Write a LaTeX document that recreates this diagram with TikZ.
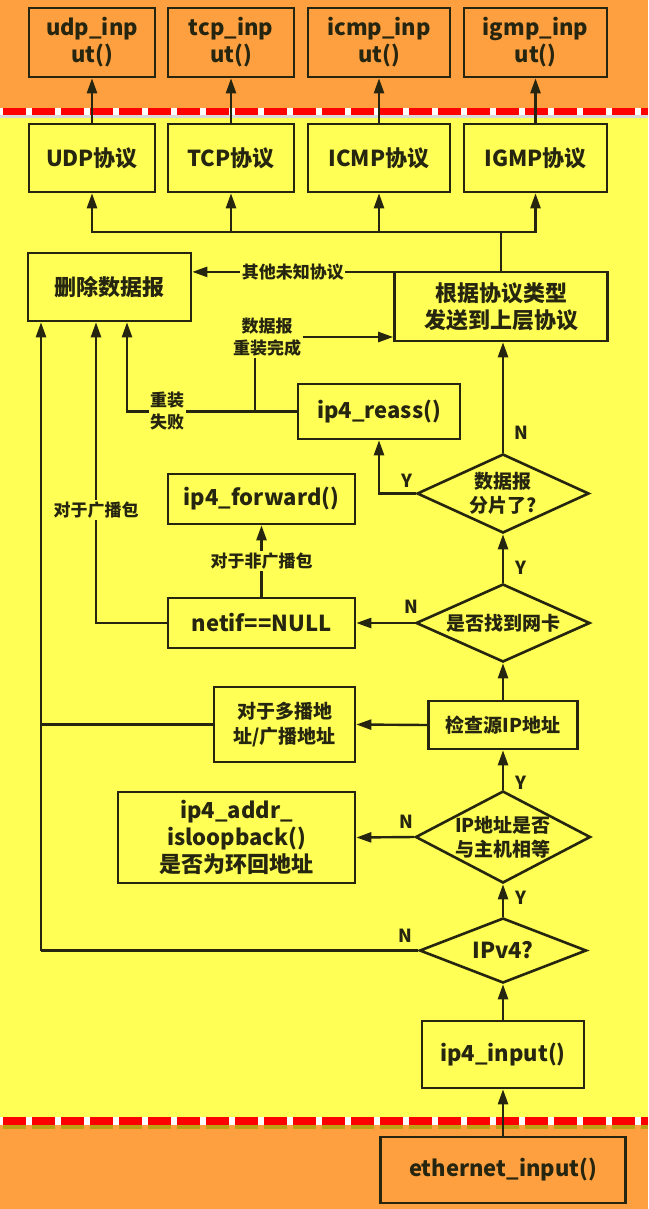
\documentclass[tikz,border=0pt]{standalone}
\usepackage{fontspec}
\setmainfont{Noto Sans CJK SC}
\usetikzlibrary{shapes.geometric,arrows.meta,calc}
\definecolor{bgor}{RGB}{255,160,64}
\definecolor{bgye}{RGB}{255,255,85}
\definecolor{ink}{RGB}{38,38,16}
\definecolor{dred}{RGB}{255,0,0}
\definecolor{shad}{RGB}{190,160,20}
\begin{document}
\begin{tikzpicture}[x=1pt,y=-1pt,
  box/.style={draw=ink,line width=2.6pt,fill=bgye,text=ink,font=\fontsize{22}{27}\selectfont\bfseries,align=center,inner sep=0pt},
  obox/.style={box,fill=bgor},
  dia/.style={diamond,draw=ink,line width=2.6pt,fill=bgye,inner sep=0pt},
  dtext/.style={text=ink,font=\fontsize{19}{24}\selectfont\bfseries,align=center,inner sep=0pt},
  mtext/.style={font=\fontsize{19}{25}\selectfont\bfseries},
  conn/.style={draw=ink,line width=2.4pt},
  arr/.style={conn,-{Triangle[length=15pt,width=10pt]}},
  lab/.style={text=ink,font=\fontsize{17}{22}\selectfont\bfseries,fill=bgye,inner sep=1.5pt,align=center},
  yn/.style={text=ink,font=\fontsize{18}{20}\selectfont\bfseries,inner sep=0pt},
]
\useasboundingbox (0,0) rectangle (648,1209);
% backgrounds
\fill[bgor] (0,0) rectangle (648,112);
\fill[bgye] (0,112) rectangle (648,1121);
\fill[bgor] (0,1121) rectangle (648,1209);
% separator lines
\draw[black!15,line width=3pt] (0,116.5) -- (648,116.5);
\draw[white,line width=7pt] (0,111.5) -- (648,111.5);
\draw[dred,line width=7pt,dash pattern=on 23pt off 6pt,dash phase=-3pt] (0,111.5) -- (648,111.5);
\draw[shad,line width=4pt,dash pattern=on 23pt off 6pt,dash phase=-3pt] (0,1127) -- (648,1127);
\draw[white,line width=8pt] (0,1121) -- (648,1121);
\draw[dred,line width=8pt,dash pattern=on 23pt off 6pt,dash phase=-3pt] (0,1121) -- (648,1121);

% top boxes
\node[obox,minimum width=126pt,minimum height=69pt] (udpi) at (92,42.5) {udp\_inp\\ut()};
\node[obox,minimum width=126pt,minimum height=69pt] (tcpi) at (231,42.5) {tcp\_inp\\ut()};
\node[obox,minimum width=142pt,minimum height=69pt] (icmpi) at (379,42.5) {icmp\_inp\\ut()};
\node[obox,minimum width=143pt,minimum height=69pt] (igmpi) at (535.5,42.5) {igmp\_inp\\ut()};
% protocol boxes
\node[box,minimum width=126pt,minimum height=68pt] (udp) at (92,158) {UDP协议};
\node[box,minimum width=126pt,minimum height=68pt] (tcp) at (231,158) {TCP协议};
\node[box,minimum width=142pt,minimum height=68pt] (icmp) at (379,158) {ICMP协议};
\node[box,minimum width=143pt,minimum height=68pt] (igmp) at (535.5,158) {IGMP协议};
% main boxes
\node[box,minimum width=163pt,minimum height=68pt] (drop) at (109.5,287) {删除数据报};
\node[box,minimum width=213pt,minimum height=69pt] (dispatch) at (501,306.5) {根据协议类型\\发送到上层协议};
\node[box,minimum width=162pt,minimum height=55pt] (reass) at (379,411.5) {ip4\_reass()};
\node[dia,minimum width=172pt,minimum height=79pt] (frag) at (503,493.5) {};
\node[dtext] at (frag) {数据报\\分片了?};
\node[box,minimum width=187pt,minimum height=50pt] (forward) at (261.5,499) {ip4\_forward()};
\node[box,minimum width=187pt,minimum height=50pt] (netif) at (261.5,623) {netif==NULL};
\node[dia,minimum width=174pt,minimum height=78pt] (nic) at (503,623) {};
\node[dtext] at (nic) {是否找到网卡};
\node[box,mtext,minimum width=149pt,minimum height=48pt] (check) at (503,725) {检查源IP地址};
\node[box,mtext,minimum width=141pt,minimum height=75pt] (mcast) at (284.5,724.5) {对于多播地\\址/广播地址};
\node[dia,minimum width=175pt,minimum height=92pt] (eq) at (503,837) {};
\node[dtext] at (eq) {IP地址是否\\与主机相等};
\node[box,minimum width=237pt,minimum height=91pt] (loop) at (236.5,837.5) {ip4\_addr\_\\isloopback()\\是否为环回地址};
\node[dia,minimum width=167pt,minimum height=65pt] (ipv4) at (503,950.5) {};
\node[dtext,font=\fontsize{22}{26}\selectfont\bfseries] at (ipv4) {IPv4?};
\node[box,minimum width=162pt,minimum height=67pt] (ip4in) at (503,1054.5) {ip4\_input()};
\node[obox,minimum width=245pt,minimum height=66pt] (eth) at (503,1170) {ethernet\_input()};

\coordinate (bus) at (501,232);
\coordinate (L) at (41,950.5);
\coordinate (j1) at (255,411.5);

% connectors
\draw[arr] (udp.north) -- (udpi.south);
\draw[arr] (tcp.north) -- (tcpi.south);
\draw[arr] (icmp.north) -- (icmpi.south);
\draw[arr] (igmp.north) -- (igmpi.south);
\draw[conn] (dispatch.north) -- (bus);
\draw[arr] (bus) -| (udp.south);
\draw[arr] (bus) -| (tcp.south);
\draw[arr] (bus) -| (icmp.south);
\draw[arr] (bus) -| (igmp.south);
\draw[arr] ([yshift=-1.2pt]dispatch.north west) -- ([yshift=-1.2pt]dispatch.north west -| drop.east)
  node[lab,midway] {其他未知协议};
\node[lab] (rok) at (267,337) {数据报\\重装完成};
\draw[conn] (j1) -- (j1 |- rok.south);
\draw[arr] (rok.east) -- (rok.east -| dispatch.west);
\draw[arr] (reass.west) -| ([xshift=17.5pt]drop.south);
\node[lab] (rfail) at (167,411.5) {重装\\失败};
\draw[arr] (frag.north) -- (frag.north |- dispatch.south);
\node[yn] at (521,433) {N};
\draw[arr] (frag.west) -| (reass.south);
\node[yn] at (407,481) {Y};
\draw[arr] (netif.north) -- (forward.south) node[lab,midway] {对于非广播包};
\draw[arr] (netif.west) -| ([xshift=-13.5pt]drop.south);
\node[lab] (bcast) at (96,510) {对于广播包};
\draw[arr] (nic.north) -- (frag.south);
\node[yn] at (521,568) {Y};
\draw[arr] (nic.west) -- (netif.east);
\node[yn] at (411,607) {N};
\draw[arr] (check.north) -- (nic.south);
\draw[arr] (check.west) -- (mcast.east);
\draw[conn] (mcast.west) -- (mcast.west -| L);
\draw[arr] (eq.north) -- (check.south);
\node[yn] at (521,783) {Y};
\draw[arr] (eq.west) -- (loop.east);
\node[yn] at (406,822) {N};
\draw[arr] (ipv4.north) -- (eq.south);
\node[yn] at (521,898) {Y};
\draw[conn] (ipv4.west) -- (L);
\draw[arr] (L) -- ([xshift=-68.5pt]drop.south);
\node[yn] at (405,936) {N};
\draw[arr] (ip4in.north) -- (ipv4.south);
\draw[arr] (eth.north) -- (ip4in.south);
\end{tikzpicture}
\end{document}
